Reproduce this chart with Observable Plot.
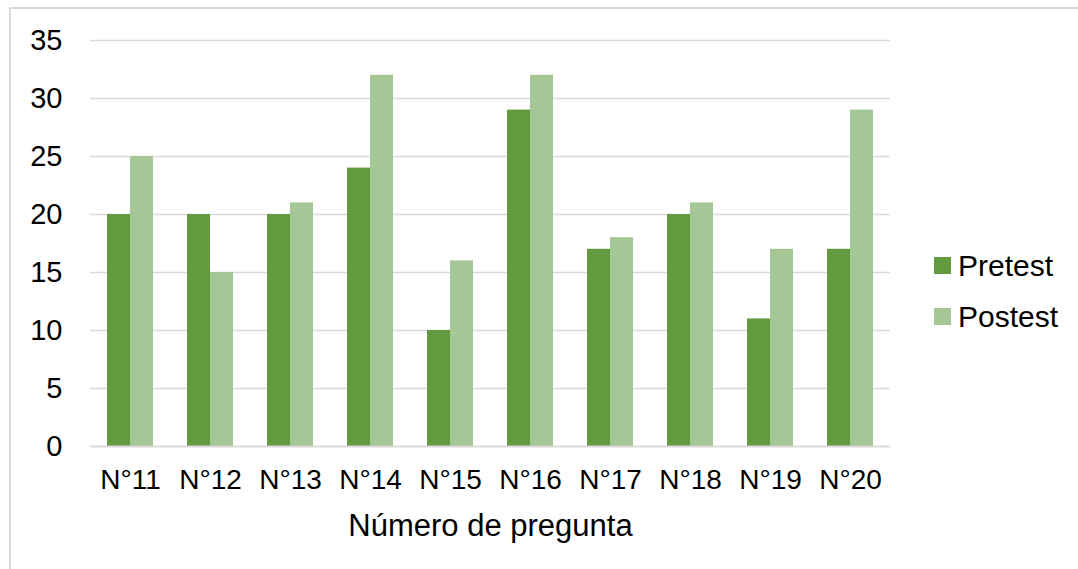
<!DOCTYPE html>
<html><head><meta charset="utf-8">
<script src="https://cdn.jsdelivr.net/npm/d3@7"></script>
<script src="https://cdn.jsdelivr.net/npm/@observablehq/plot@0.6"></script>
<style>
body{margin:0;background:#fff;font-family:"Liberation Sans",Arial,sans-serif;}
#wrap{position:relative;width:1078px;height:569px;overflow:hidden;}
#frame{position:absolute;left:9px;top:7px;width:1080px;height:580px;border-left:2px solid #d9d9d9;border-top:2px solid #d9d9d9;box-sizing:border-box;}
#chart{position:absolute;left:0;top:0;}
#legend{position:absolute;left:934px;top:240px;font-size:30px;color:#000;}
.li{display:flex;align-items:center;height:51px;}
.sw{width:17px;height:17px;margin-right:7px;}
</style></head><body>
<div id="wrap"><div id="frame"></div><div id="chart"></div><div id="legend"></div></div>
<script>
const categories = ["N°11","N°12","N°13","N°14","N°15","N°16","N°17","N°18","N°19","N°20"];
const pretest = [20,20,20,24,10,29,17,20,11,17];
const postest = [25,15,21,32,16,32,18,21,17,29];
const series = ["Pretest","Postest"];
const colors = ["#629b3f","#a4c795"];
const yTicks = [0,5,10,15,20,25,30,35];

const rows = categories.map((c,i)=>({cat:c, pre:pretest[i], post:postest[i]}));

const chart = Plot.plot({
  width:1078, height:569,
  marginLeft:90, marginRight:188, marginTop:40, marginBottom:123,
  style:{fontFamily:"'Liberation Sans', Arial, sans-serif", fontSize:"30px", color:"#000", background:"transparent"},
  x:{domain:categories, padding:0},
  y:{domain:[0,35]},
  marks:[
    Plot.ruleY(yTicks.filter(d=>d>0), {stroke:"#d9d9d9", strokeWidth:1.5, strokeOpacity:1}),
    Plot.barY(rows, {x:"cat", y:"pre", fill:colors[0], insetLeft:17, insetRight:40}),
    Plot.barY(rows, {x:"cat", y:"post", fill:colors[1], insetLeft:40, insetRight:17}),
    Plot.ruleY([0], {stroke:"#d9d9d9", strokeWidth:2, strokeOpacity:1}),
    Plot.axisY({ticks:yTicks, tickSize:0, tickPadding:28, label:null, fontSize:29}),
    Plot.axisX({tickSize:0, tickPadding:23, fontSize:28, label:"Número de pregunta", labelAnchor:"center", labelArrow:"none", labelOffset:89})
  ]
});
chart.querySelectorAll("[aria-label='x-axis label'] text, [aria-label='x-axis label']").forEach(e=>e.setAttribute("font-size","31"));
document.getElementById("chart").appendChild(chart);

const lg = document.getElementById("legend");
series.forEach((s,i)=>{
  const d=document.createElement("div"); d.className="li";
  d.innerHTML=`<span class="sw" style="background:${colors[i]}"></span><span>${s}</span>`;
  lg.appendChild(d);
});
</script>
</body></html>
